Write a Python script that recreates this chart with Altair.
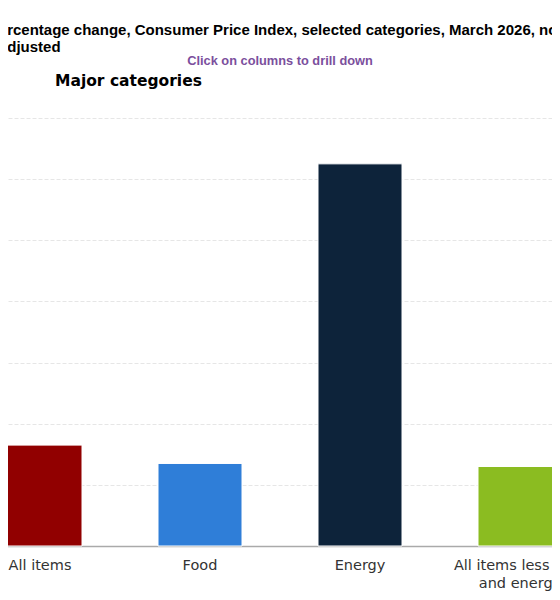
import altair as alt
import pandas as pd

categories = ["All items", "Food", "Energy", "All items less food and energy"]
values = [3.3, 2.7, 12.5, 2.6]
colors = ["#910000", "#2f7ed8", "#0d233a", "#8bbc21"]
y_ticks = [0, 2, 4, 6, 8, 10, 12, 14]
title_lines = [
    "12-month percentage change, Consumer Price Index, selected categories, March 2026, not",
    "seasonally adjusted",
]
drill_text = "Click on columns to drill down"
level_text = "Major categories"

df = pd.DataFrame({"category": categories, "value": values})
one = pd.DataFrame({"k": [0]})

bars = alt.Chart(df).mark_bar(stroke="white", strokeWidth=1).encode(
    x=alt.X(
        "category:N",
        sort=categories,
        scale=alt.Scale(paddingInner=0.475, paddingOuter=0.2375),
        axis=alt.Axis(
            title=None,
            labelAngle=0,
            ticks=False,
            tickSize=0,
            labelPadding=12,
            labelFont="DejaVu Sans",
            labelFontSize=14.5,
            labelColor="#333333",
            labelLineHeight=18,
            labelExpr="datum.value == 'All items less food and energy' ? ['All items less food', 'and energy'] : datum.value",
            domainColor="#aaaaaa",
            domainWidth=1.5,
            grid=False,
        ),
    ),
    y=alt.Y(
        "value:Q",
        scale=alt.Scale(domain=[y_ticks[0], y_ticks[-1]], nice=False),
        axis=alt.Axis(
            title=None,
            labels=False,
            ticks=False,
            domain=False,
            values=y_ticks,
            grid=True,
            gridColor="#e6e6e6",
            gridDash=[4, 2],
            gridWidth=1,
        ),
    ),
    color=alt.Color("category:N", scale=alt.Scale(domain=categories, range=colors), legend=None),
)

title = alt.Chart(one).mark_text(
    align="left", baseline="alphabetic", font="Liberation Sans", fontSize=15,
    fontWeight="bold", color="#000000", lineHeight=16.5,
).encode(x=alt.value(-42), y=alt.value(-83), text=alt.value(title_lines))

drill = alt.Chart(one).mark_text(
    align="center", baseline="alphabetic", font="Liberation Sans", fontSize=12.8,
    fontWeight="bold", color="#7b4f9d",
).encode(x=alt.value(320), y=alt.value(-53), text=alt.value(drill_text))

level = alt.Chart(one).mark_text(
    align="left", baseline="alphabetic", font="DejaVu Sans", fontSize=15.5,
    fontWeight="bold", color="#000000",
).encode(x=alt.value(95), y=alt.value(-32), text=alt.value(level_text))

chart = alt.layer(bars, title, drill, level).properties(
    width=640,
    height=428,
    autosize=alt.AutoSizeParams(type="none"),
    padding={"left": -48, "top": 110, "right": -48, "bottom": 45},
).configure_view(stroke=None)

chart.save("out.html", embed_options={"renderer": "svg", "actions": False})
